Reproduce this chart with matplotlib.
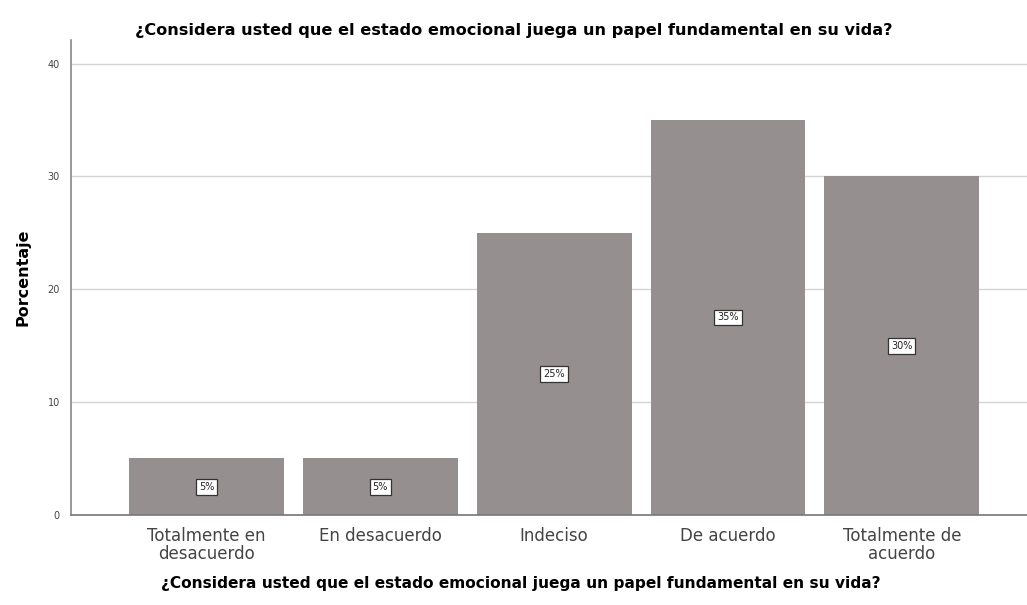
import numpy as np
import matplotlib.pyplot as plt

# Respuestas a la pregunta sobre el estado emocional (porcentaje)
categorias = ["Totalmente en\ndesacuerdo", "En desacuerdo", "Indeciso",
              "De acuerdo", "Totalmente de\nacuerdo"]
porcentajes = [5, 5, 25, 35, 30]
etiquetas = ["5%", "5%", "25%", "35%", "30%"]

pregunta = "¿Considera usted que el estado emocional juega un papel fundamental en su vida?"

fig = plt.figure(figsize=(10.27, 6.05), dpi=100)
ax = fig.add_axes([0.069, 0.149, 0.931, 0.785])

x = np.arange(len(categorias))
barras = ax.bar(x, porcentajes, width=0.89, color="#968f8f", zorder=2)

# etiqueta de valor en caja blanca a media altura de cada barra
for b, txt in zip(barras, etiquetas):
    ax.text(b.get_x() + b.get_width() / 2, b.get_height() / 2, txt,
            ha="center", va="center", fontsize=7, color="#222222", zorder=3,
            bbox=dict(boxstyle="square,pad=0.3", facecolor="white",
                      edgecolor="#333333", linewidth=0.9))

ax.set_xlim(-0.78, 4.72)
ax.set_ylim(0, 42.1)
ax.set_yticks([0, 10, 20, 30, 40])
ax.yaxis.grid(True, color="#d4d4d4", linewidth=1, zorder=0)
ax.set_xticks(x)
ax.set_xticklabels(categorias, fontsize=12, color="#444444", linespacing=0.95)
ax.tick_params(axis="y", labelsize=7, colors="#444444", length=0, pad=8)
ax.tick_params(axis="x", length=0, pad=9)

for s in ["top", "right"]:
    ax.spines[s].set_visible(False)
ax.spines["left"].set_color("#888888")
ax.spines["bottom"].set_color("#777777")
ax.spines["left"].set_linewidth(1.2)
ax.spines["bottom"].set_linewidth(1.2)

ax.set_ylabel("Porcentaje", fontsize=11.5, fontweight="bold", labelpad=12)
# título del eje x centrado en la figura, bajo las categorías
fig.text(0.507, 0.036, pregunta, ha="center", va="center",
         fontsize=11.1, fontweight="bold")
fig.text(0.5, 0.95, pregunta, ha="center", va="center",
         fontsize=11.6, fontweight="bold")

fig.savefig("out.png", dpi=100)
